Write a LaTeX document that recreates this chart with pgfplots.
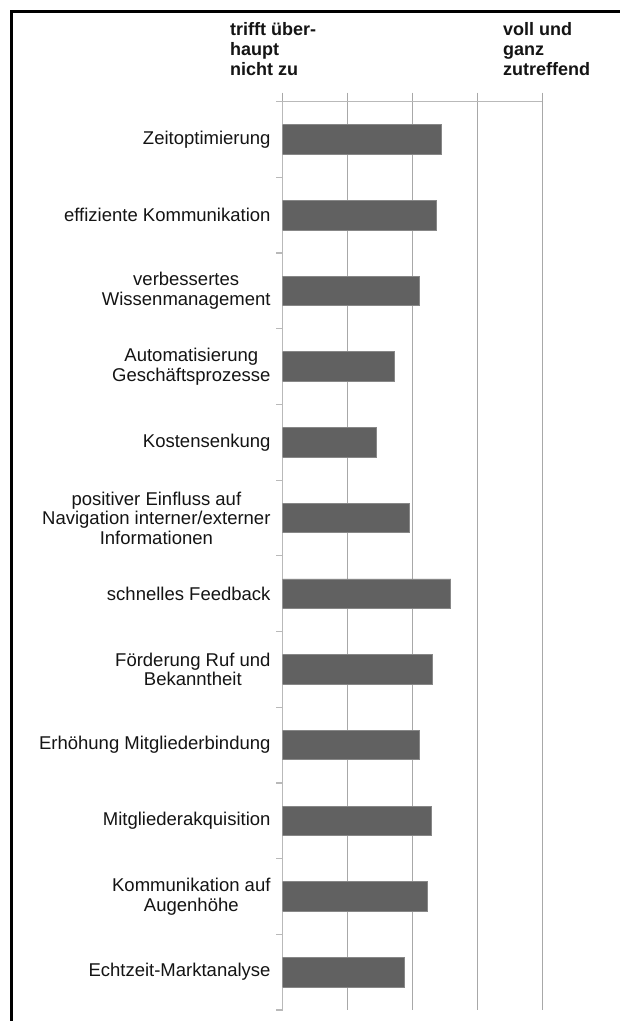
\documentclass[border=0pt]{standalone}
\usepackage{pgfplots}
\pgfplotsset{compat=1.18}
\usepackage{fontspec}
\setmainfont{Liberation Sans}
\definecolor{barfill}{RGB}{97,97,97}
\definecolor{baredge}{RGB}{135,135,135}
\definecolor{gridc}{RGB}{168,168,168}
\definecolor{axisc}{RGB}{185,185,185}
\definecolor{txt}{RGB}{20,20,20}
\begin{document}
\begin{tikzpicture}[x=1pt,y=1pt]
\useasboundingbox (0,0) rectangle (620,1021);
\fill[white] (0,0) rectangle (620,1021);
\draw[black, line width=2.4pt] (11.5,0) -- (11.5,1009.5) -- (620,1009.5);
\node[anchor=north west, align=left, font=\fontsize{18}{20}\selectfont\bfseries, text=txt, inner sep=0pt] at (230,999) {trifft über-\\haupt\\nicht zu};
\node[anchor=north west, align=left, font=\fontsize{18}{20}\selectfont\bfseries, text=txt, inner sep=0pt] at (503,999) {voll und\\ganz\\zutreffend};
\begin{axis}[
  at={(282.7pt,11pt)}, anchor=south west,
  scale only axis, width=259.6pt, height=908.3pt,
  xmin=1, xmax=5, ymin=0.5, ymax=12.5, y dir=reverse,
  axis x line*=top, axis y line*=left,
  axis line style={draw=axisc, line width=1.2pt, -},
  xtick={1,2,3,4,5}, xticklabels={},
  xmajorgrids, grid style={draw=gridc, line width=1.3pt},
  tick align=outside,
  major tick length=9pt, minor tick length=6.5pt,
  every major x tick/.style={draw=gridc, line width=1.3pt},
  every major y tick/.style={draw=none},
  every minor y tick/.style={draw=axisc, line width=1.2pt},
  ytick={1,...,12},
  minor ytick={0.5,1.5,...,12.5},
  yticklabels={Zeitoptimierung, effiziente Kommunikation, {verbessertes\\Wissenmanagement}, {Automatisierung\\Geschäftsprozesse}, Kostensenkung, {positiver Einfluss auf\\Navigation interner/externer\\Informationen}, schnelles Feedback, {Förderung Ruf und\\Bekanntheit}, Erhöhung Mitgliederbindung, Mitgliederakquisition, {Kommunikation auf\\Augenhöhe}, Echtzeit-Marktanalyse},
  yticklabel style={align=center, inner sep=0pt, xshift=-3pt, text=txt, font=\fontsize{18.5}{19.5}\selectfont},
]
\addplot[xbar, bar width=29.5pt, fill=barfill, draw=baredge, line width=0.8pt] coordinates {
(3.45,1) (3.37,2) (3.10,3) (2.72,4) (2.44,5) (2.95,6) (3.59,7) (3.30,8) (3.10,9) (3.29,10) (3.23,11) (2.87,12)
};
\end{axis}
\end{tikzpicture}
\end{document}
